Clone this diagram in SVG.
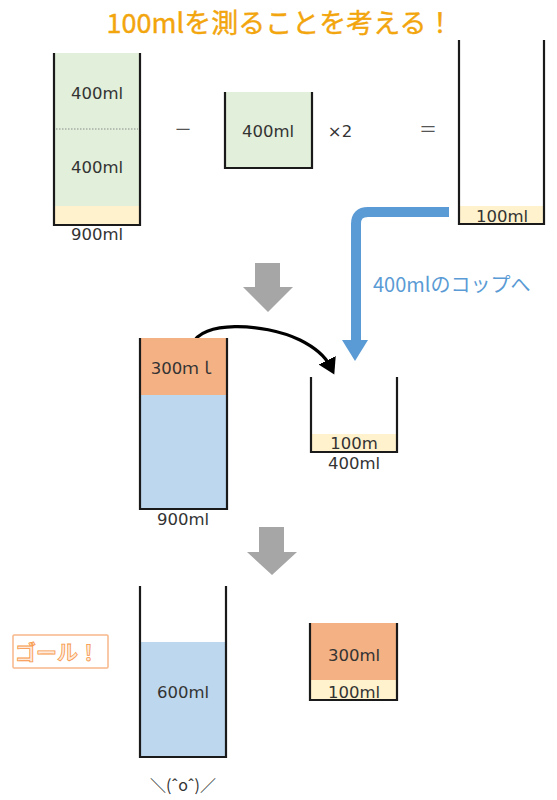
<svg xmlns="http://www.w3.org/2000/svg" width="557" height="800" viewBox="0 0 557 800">
<style>
.wall{fill:none;stroke:#1a1a1a;stroke-width:2.2;stroke-linejoin:miter}
.lbl{font-family:"DejaVu Sans","Noto Sans CJK JP",sans-serif;font-size:16.5px;fill:#333;text-anchor:middle}
.jp{font-family:"Noto Sans CJK JP","Noto Sans",sans-serif}
.green{fill:#E2EFDA}.beige{fill:#FFF2CC}.orange{fill:#F4B183}.blue{fill:#BDD7EE}
.gray{fill:#A6A6A6}
</style>
<defs>
<marker id="blk" markerWidth="6" markerHeight="6" refX="2" refY="3" orient="auto" markerUnits="strokeWidth">
<path d="M0,0 L5,3 L0,6 Z" fill="#000"/>
</marker>
</defs>
<rect width="557" height="800" fill="#fff"/>
<text id="title" x="280" y="33" class="jp" font-size="27" fill="#F2A50C" stroke="#F2A50C" stroke-width="0.4" text-anchor="middle">100mlを測ることを考える！</text>

<g id="cup-top-left">
<rect x="54" y="53" width="86" height="153" class="green"/>
<rect x="54" y="206" width="86" height="19" class="beige"/>
<line x1="56" y1="129" x2="138" y2="129" stroke="#8a8a8a" stroke-width="1" stroke-dasharray="1.5,1.5"/>
<path class="wall" d="M54,53 V225 H140 V53"/>
<text class="lbl" x="97" y="99">400ml</text>
<text class="lbl" x="97" y="173">400ml</text>
<text class="lbl" x="97" y="240">900ml</text>
</g>
<text id="minus" x="183" y="136" class="jp" font-size="18" fill="#555" text-anchor="middle">－</text>
<g id="cup-top-mid">
<rect x="225" y="92" width="87" height="76" class="green"/>
<path class="wall" d="M225,92 V168 H312 V92"/>
<text class="lbl" x="268" y="137">400ml</text>
</g>
<text id="times" x="340" y="137" class="lbl" font-size="17.5" text-anchor="start">×2</text>
<text id="equals" x="428" y="136" class="jp" font-size="18" fill="#555" text-anchor="middle">＝</text>
<g id="cup-top-right">
<rect x="459" y="206" width="85" height="18" class="beige"/>
<path class="wall" d="M459,40 V224 H544 V40"/>
<text class="lbl" x="502" y="222">100ml</text>
</g>

<g id="connectors">
<path d="M449,212 H368 Q356,212 356,224 V342" fill="none" stroke="#5B9BD5" stroke-width="10"/>
<polygon points="342,340 368,340 355,361" fill="#5B9BD5"/>
<polygon class="gray" points="255,263 280,263 280,287 293,287 268,312 243,287 255,287"/>
<polygon class="gray" points="259,527 284,527 284,552 297,552 272,575 247,552 259,552"/>
<path d="M193,344 C200,321 262,322 300,340 C316,348 326,358 330,366" fill="none" stroke="#000" stroke-width="3.2" marker-end="url(#blk)"/>
</g>
<text id="blue-label" x="373" y="292" class="jp" font-size="20" fill="#5B9BD5">400mlのコップへ</text>

<g id="cup-mid-left">
<rect x="140" y="338" width="87" height="57" class="orange"/>
<rect x="140" y="395" width="87" height="114" class="blue"/>
<path class="wall" d="M140,338 V509 H227 V338"/>
<text class="lbl" x="183" y="374">300ｍｌ</text>
<text class="lbl" x="183" y="525">900ml</text>
</g>
<g id="cup-mid-right">
<rect x="311" y="434" width="86" height="18" class="beige"/>
<path class="wall" d="M311,377 V452 H397 V377"/>
<text class="lbl" x="354" y="449" font-size="15.5">100m</text>
<text class="lbl" x="354" y="469">400ml</text>
</g>

<g id="goal">
<rect x="13" y="635" width="95" height="33" fill="#fff" stroke="#F8B88B" stroke-width="1.5" rx="1"/>
<text x="57" y="660" class="jp" font-size="21" font-weight="bold" fill="#FEEADB" stroke="#F79646" stroke-width="0.8" text-anchor="middle">ゴール！</text>
</g>
<g id="cup-bottom-left">
<rect x="140" y="642" width="86" height="115" class="blue"/>
<path class="wall" d="M140,586 V757 H226 V586"/>
<text class="lbl" x="183" y="698">600ml</text>
</g>
<g id="cup-bottom-right">
<rect x="310" y="623" width="87" height="57" class="orange"/>
<rect x="310" y="680" width="87" height="20" class="beige"/>
<path class="wall" d="M310,623 V700 H397 V623"/>
<text class="lbl" x="354" y="661">300ml</text>
<text class="lbl" x="354" y="698">100ml</text>
</g>
<text id="face" x="183" y="791" class="jp" font-size="16" fill="#333" text-anchor="middle">＼(ˆoˆ)／</text>
</svg>
